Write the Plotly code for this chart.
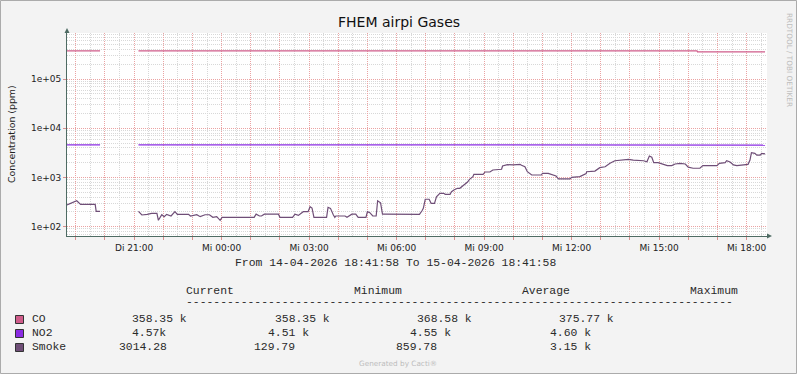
import plotly.graph_objects as go
import pandas as pd

# ---------------- data ----------------
START = "2026-04-14 18:41:58"
END = "2026-04-15 18:41:58"

series_names = ["CO", "NO2", "Smoke"]
series_colors = ["#CF5C8A", "#8A2BE2", "#6F4E77"]

# minutes after START, value (ppm); None = no data
co_minutes = [0, 68, 69, 147, 1296, 1297, 1436]
co_values = [375770, 375770, None, 375770, 375770, 358350, 358350]

no2_minutes = [0, 68, 69, 147, 1436]
no2_values = [4600, 4600, None, 4600, 4570]

smoke_minutes = [0, 10, 20, 28, 58, 60, 68, 69, 147, 154, 165, 174, 185, 188, 195, 200,
                 205, 214, 222, 227, 250, 254, 267, 274, 284, 293, 300, 308, 315, 319,
                 385, 389, 396, 400, 406, 435, 438, 464, 469, 476, 486, 496, 500, 504,
                 508, 534, 537, 542, 548, 551, 553, 572, 576, 586, 594, 599, 615, 618,
                 623, 629, 636, 639, 645, 649, 654, 725, 730, 733, 737, 745, 749, 756,
                 760, 767, 775, 778, 788, 791, 796, 803, 808, 812, 817, 824, 828, 835,
                 837, 856, 860, 870, 876, 894, 896, 906, 918, 925, 932, 935, 942, 947,
                 956, 976, 978, 990, 997, 1006, 1011, 1035, 1038, 1055, 1068, 1069, 1086,
                 1096, 1107, 1117, 1127, 1144, 1155, 1165, 1186, 1193, 1198, 1203, 1207,
                 1216, 1223, 1235, 1244, 1251, 1261, 1272, 1278, 1288, 1302, 1308, 1337,
                 1342, 1354, 1357, 1364, 1371, 1378, 1391, 1401, 1405, 1408, 1415, 1419,
                 1426, 1429, 1436]
smoke_values = [276, 300, 337, 285, 285, 205, 205, None, 205, 173, 178, 187, 187, 135, 175, 160,
                178, 165, 202, 178, 178, 165, 175, 160, 175, 175, 155, 160, 135, 155,
                155, 180, 165, 165, 180, 180, 155, 155, 180, 170, 202, 202, 255, 240,
                155, 155, 248, 236, 173, 155, 165, 165, 155, 180, 180, 155, 155, 202,
                193, 165, 165, 337, 307, 180, 180, 178, 208, 236, 361, 361, 299, 299,
                407, 477, 477, 456, 456, 514, 557, 603, 603, 650, 727, 811, 919, 1037,
                1160, 1160, 1294, 1294, 1420, 1470, 1714, 1820, 1800, 1850, 1850, 1770, 1650, 1312,
                1124, 1124, 1216, 1216, 1160, 1072, 934, 934, 1009, 1040, 1200, 1312, 1350,
                1585, 1650, 1945, 2193, 2265, 2340, 2265, 2193, 2090, 2735, 2580, 2000,
                2000, 1880, 1740, 1740, 1880, 1945, 1880, 1620, 1540, 1540, 1740, 1740,
                1945, 2000, 2193, 2070, 1800, 1740, 1800, 1850, 2265, 3190, 3100, 2850,
                2850, 3100, 3014]

y_tick_values = [1e2, 1e3, 1e4, 1e5]
y_tick_labels = ["1e+02", "1e+03", "1e+04", "1e+05"]

x_tick_times = ["2026-04-14 21:00", "2026-04-15 00:00", "2026-04-15 03:00", "2026-04-15 06:00",
                "2026-04-15 09:00", "2026-04-15 12:00", "2026-04-15 15:00", "2026-04-15 18:00"]
x_tick_labels = ["Di 21:00", "Mi 00:00", "Mi 03:00", "Mi 06:00",
                 "Mi 09:00", "Mi 12:00", "Mi 15:00", "Mi 18:00"]

stat_headers = ["Current", "Minimum", "Average", "Maximum"]
stat_current = ["358.35 k", "4.57k", "3014.28"]
stat_minimum = ["358.35 k", "4.51 k", "129.79"]
stat_average = ["368.58 k", "4.55 k", "859.78"]
stat_maximum = ["375.77 k", "4.60 k", "3.15 k"]

title_text = "FHEM airpi Gases"
y_title = "Concentration (ppm)"
period_text = "From 14-04-2026 18:41:58 To 15-04-2026 18:41:58"

# ---------------- layout geometry (pixels) ----------------
W, H = 797, 374
L, R, T, B = 67, 767, 33, 236


def px(x):
    return (x - L) / (R - L)


def py(y):
    return (B - y) / (B - T)


start = pd.Timestamp(START)
end = pd.Timestamp(END)


def times(mins):
    return [start + pd.Timedelta(minutes=m) for m in mins]


fig = go.Figure()
for name, col, mins, vals in [
    ("CO", series_colors[0], co_minutes, co_values),
    ("NO2", series_colors[1], no2_minutes, no2_values),
    ("Smoke", series_colors[2], smoke_minutes, smoke_values),
]:
    fig.add_trace(go.Scatter(x=times(mins), y=vals, mode="lines", name=name,
                             line=dict(color=col, width=1.2), connectgaps=False,
                             hoverinfo="skip"))

hour_ticks = pd.date_range("2026-04-14 19:00", "2026-04-15 18:00", freq="h")
hour_text = []
for h in hour_ticks:
    s = h.strftime("%Y-%m-%d %H:%M")
    hour_text.append(x_tick_labels[x_tick_times.index(s)] if s in x_tick_times else "")

# y range from pixel mapping: 1e+02 at y=226.7, 49.2 px per decade
y_lo = 2 - (B - 226.7) / 49.2
y_hi = 2 + (226.7 - T) / 49.2

axis_col = "#4E6B63"
major_grid = "#EBA3A3"
minor_grid = "#D8D8D8"
DOT = "1px,1px"

fig.update_xaxes(type="date", range=[start, end], tickmode="array",
                 tickvals=list(hour_ticks), ticktext=hour_text,
                 showgrid=True, gridcolor=major_grid, griddash=DOT, gridwidth=1,
                 minor=dict(dtick=1800000, tick0="2026-04-14 19:00", showgrid=True,
                            gridcolor=minor_grid, griddash=DOT, ticks=""),
                 ticks="outside", ticklen=3, tickcolor="#D89090",
                 showline=True, linecolor=axis_col, linewidth=1, zeroline=False,
                 tickfont=dict(size=9, color="#222222", family="DejaVu Sans"))
fig.update_yaxes(type="log", range=[y_lo, y_hi], tickmode="array",
                 tickvals=y_tick_values, ticktext=y_tick_labels,
                 showgrid=True, gridcolor=major_grid, griddash=DOT, gridwidth=1,
                 minor=dict(dtick="D1", showgrid=True, gridcolor=minor_grid,
                            griddash=DOT, ticks=""),
                 ticks="outside", ticklen=3, tickcolor="#D89090",
                 showline=True, linecolor=axis_col, linewidth=1, zeroline=False,
                 tickfont=dict(size=9, color="#222222", family="DejaVu Sans"))

P = dict(xref="paper", yref="paper", showarrow=False, yanchor="middle")
ann = []
ann.append(dict(x=px(398.5), y=py(22), text=title_text, xanchor="center",
                font=dict(size=14, color="#111111", family="DejaVu Sans"), **P))
ann.append(dict(x=px(11), y=py(134), text=y_title, textangle=-90, xanchor="center",
                font=dict(size=9.4, color="#222222", family="DejaVu Sans"), **P))
ann.append(dict(x=px(789), y=py(60), text="RRDTOOL / TOBI OETIKER", textangle=90,
                xanchor="center",
                font=dict(size=7.3, color="#BDBDBD", family="DejaVu Sans"), **P))
ann.append(dict(x=px(398), y=py(363), text="Generated by Cacti®", xanchor="center",
                font=dict(size=7.3, color="#BDBDBD", family="DejaVu Sans"), **P))

mono = dict(family="Liberation Mono", size=11.4, color="#2A2A2A")
ann.append(dict(x=px(233), y=py(263), text=period_text, xanchor="left", font=mono, **P))

header_x = [184.3, 352.3, 520, 688.3]
for hx, htxt in zip(header_x, stat_headers):
    ann.append(dict(x=px(hx), y=py(291), text=htxt, xanchor="left", font=mono, **P))
ann.append(dict(x=px(184.3), y=py(302), text="-" * 80, xanchor="left", font=mono, **P))

row_y = [319, 333, 347]
cell_x = [
    [130, 272.7, 415, 556.7],
    [130, 265.7, 408.3, 548.3],
    [116.7, 251.7, 394, 548.3],
]
shapes = []
for i, name in enumerate(series_names):
    yy = row_y[i]
    ann.append(dict(x=px(30), y=py(yy), text=name, xanchor="left", font=mono, **P))
    vals = [stat_current[i], stat_minimum[i], stat_average[i], stat_maximum[i]]
    for cx, v in zip(cell_x[i], vals):
        ann.append(dict(x=px(cx), y=py(yy), text=v, xanchor="left", font=mono, **P))
    shapes.append(dict(type="rect", xref="paper", yref="paper",
                       x0=px(15.5), x1=px(23.5), y0=py(yy - 3.5), y1=py(yy + 4.5),
                       fillcolor=series_colors[i], line=dict(color="#333333", width=1)))

# axis arrows
shapes.append(dict(type="path", xref="paper", yref="paper",
                   path=f"M {px(64.5)} {py(T)} L {px(69.5)} {py(T)} L {px(67)} {py(28)} Z",
                   fillcolor=axis_col, line=dict(color=axis_col, width=0)))
shapes.append(dict(type="path", xref="paper", yref="paper",
                   path=f"M {px(767)} {py(B - 2.5)} L {px(767)} {py(B + 2.5)} L {px(772)} {py(B)} Z",
                   fillcolor=axis_col, line=dict(color=axis_col, width=0)))
# frame
shapes.append(dict(type="rect", xref="paper", yref="paper",
                   x0=px(0.5), x1=px(796.5), y0=py(0.5), y1=py(373.5),
                   line=dict(color="#ABABAB", width=1), fillcolor="rgba(0,0,0,0)"))

fig.update_layout(width=W, height=H,
                  margin=dict(l=L, r=W - R, t=T, b=H - B, pad=0),
                  paper_bgcolor="#F3F3F3", plot_bgcolor="#FFFFFF",
                  showlegend=False, annotations=ann, shapes=shapes,
                  font=dict(family="DejaVu Sans"))

fig.write_html("out.html", config={"displayModeBar": False},
               post_script="document.body.style.margin='0';document.body.style.padding='0';")
